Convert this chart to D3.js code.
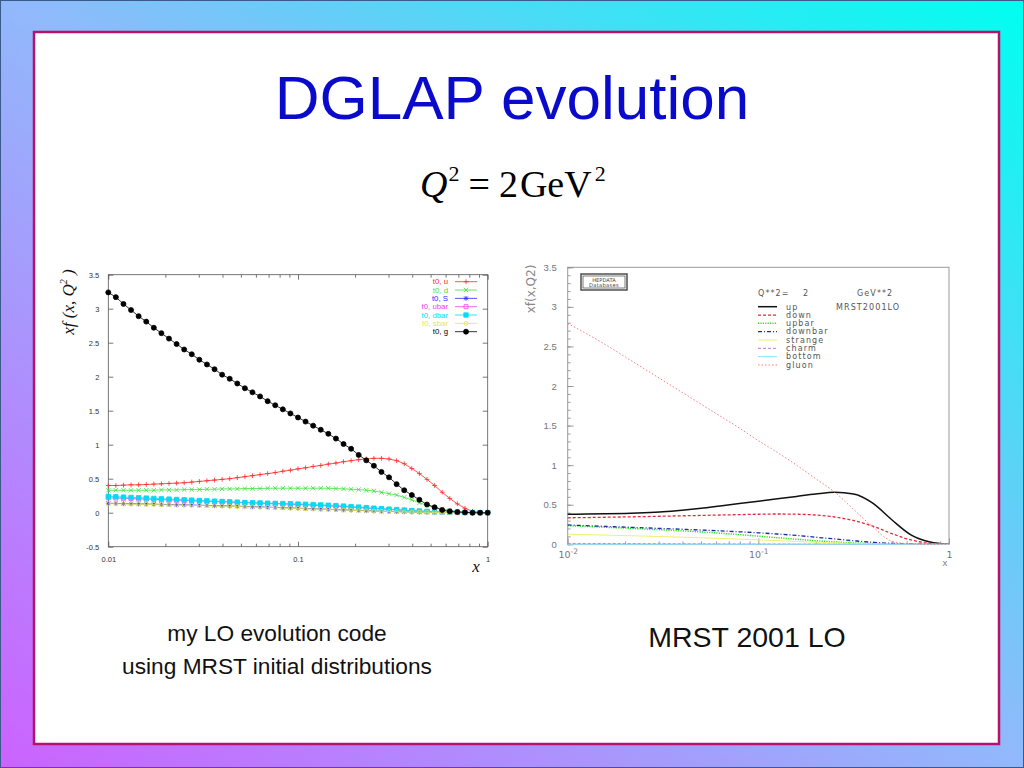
<!DOCTYPE html>
<html>
<head>
<meta charset="utf-8">
<script src="https://cdn.jsdelivr.net/npm/d3@7"></script>
<style>
  body { margin: 0; background: #fff; }
  svg { display: block; }
</style>
</head>
<body>
<div id="slide"></div>
<script>
// ---------- Left chart data (my LO evolution code, gnuplot style) ----------
var xGrid = [0.01, 0.01096, 0.01202, 0.01318, 0.01445, 0.01585, 0.01738, 0.01905, 0.02089, 0.02291,
  0.02512, 0.02754, 0.0302, 0.03311, 0.03631, 0.03981, 0.04365, 0.04786, 0.05248, 0.05754,
  0.0631, 0.06918, 0.07586, 0.08318, 0.0912, 0.1, 0.1096, 0.1202, 0.1318, 0.1445,
  0.1585, 0.1738, 0.1905, 0.2089, 0.2291, 0.2512, 0.2754, 0.302, 0.3311, 0.3631,
  0.3981, 0.4365, 0.4786, 0.5248, 0.5754, 0.631, 0.6918, 0.7586, 0.8318, 0.912, 1.0];

var uVals = [0.40, 0.40, 0.405, 0.41, 0.41, 0.415, 0.42, 0.425, 0.43, 0.435,
  0.44, 0.45, 0.46, 0.47, 0.48, 0.49, 0.50, 0.515, 0.53, 0.545,
  0.56, 0.575, 0.59, 0.61, 0.625, 0.645, 0.66, 0.68, 0.695, 0.715,
  0.73, 0.75, 0.765, 0.78, 0.79, 0.80, 0.80, 0.79, 0.765, 0.72,
  0.65, 0.575, 0.49, 0.40, 0.30, 0.21, 0.13, 0.065, 0.02, 0.003, 0.0];

var dVals = [0.33, 0.33, 0.33, 0.33, 0.33, 0.33, 0.33, 0.335, 0.335, 0.335,
  0.34, 0.34, 0.34, 0.345, 0.345, 0.35, 0.35, 0.35, 0.355, 0.355,
  0.355, 0.36, 0.36, 0.36, 0.36, 0.36, 0.36, 0.36, 0.36, 0.36,
  0.355, 0.35, 0.345, 0.34, 0.33, 0.32, 0.30, 0.28, 0.26, 0.225,
  0.19, 0.145, 0.11, 0.08, 0.055, 0.035, 0.02, 0.01, 0.005, 0.0, 0.0];

var sVals = [0.138, 0.136, 0.134, 0.132, 0.13, 0.127, 0.125, 0.122, 0.12, 0.117,
  0.115, 0.112, 0.11, 0.107, 0.104, 0.101, 0.098, 0.095, 0.092, 0.088,
  0.085, 0.081, 0.078, 0.074, 0.07, 0.066, 0.062, 0.058, 0.054, 0.05,
  0.046, 0.042, 0.038, 0.034, 0.03, 0.026, 0.022, 0.019, 0.016, 0.013,
  0.01, 0.008, 0.006, 0.004, 0.003, 0.002, 0.001, 0.0, 0.0, 0.0, 0.0];

var ubarVals = [0.22, 0.216, 0.212, 0.208, 0.204, 0.2, 0.196, 0.192, 0.188, 0.184,
  0.18, 0.176, 0.172, 0.168, 0.164, 0.16, 0.156, 0.152, 0.148, 0.144,
  0.14, 0.136, 0.132, 0.128, 0.124, 0.12, 0.115, 0.11, 0.105, 0.1,
  0.094, 0.088, 0.082, 0.075, 0.068, 0.061, 0.054, 0.047, 0.04, 0.034,
  0.028, 0.022, 0.017, 0.013, 0.009, 0.006, 0.003, 0.002, 0.001, 0.0, 0.0];

var dbarVals = [0.24, 0.235, 0.23, 0.225, 0.22, 0.215, 0.21, 0.205, 0.20, 0.195,
  0.19, 0.185, 0.18, 0.175, 0.17, 0.165, 0.16, 0.155, 0.15, 0.147,
  0.143, 0.14, 0.137, 0.134, 0.131, 0.128, 0.124, 0.12, 0.115, 0.11,
  0.105, 0.098, 0.09, 0.083, 0.075, 0.067, 0.06, 0.053, 0.046, 0.039,
  0.032, 0.026, 0.02, 0.015, 0.011, 0.007, 0.004, 0.002, 0.001, 0.0, 0.0];

var sbarVals = [0.132, 0.13, 0.128, 0.126, 0.124, 0.122, 0.12, 0.117, 0.115, 0.112,
  0.11, 0.107, 0.105, 0.102, 0.099, 0.096, 0.093, 0.09, 0.087, 0.084,
  0.08, 0.077, 0.074, 0.07, 0.066, 0.062, 0.058, 0.054, 0.05, 0.047,
  0.043, 0.039, 0.035, 0.031, 0.027, 0.023, 0.02, 0.017, 0.014, 0.011,
  0.009, 0.007, 0.005, 0.003, 0.002, 0.001, 0.0, 0.0, 0.0, 0.0, 0.0];

var gVals = [3.24, 3.17, 3.07, 2.98, 2.89, 2.81, 2.72, 2.64, 2.56, 2.48,
  2.40, 2.33, 2.25, 2.18, 2.11, 2.03, 1.97, 1.90, 1.83, 1.77,
  1.71, 1.64, 1.58, 1.52, 1.46, 1.40, 1.34, 1.28, 1.22, 1.16,
  1.09, 1.01, 0.94, 0.85, 0.77, 0.69, 0.60, 0.52, 0.42, 0.33,
  0.26, 0.19, 0.12, 0.08, 0.04, 0.02, 0.01, 0.005, 0.0, 0.0, 0.0];

var leftNames = ["t0, u", "t0, d", "t0, S", "t0, ubar", "t0, dbar", "t0, sbar", "t0, g"];
var leftValues = [uVals, dVals, sVals, ubarVals, dbarVals, sbarVals, gVals];
var leftYTicks = [-0.5, 0, 0.5, 1, 1.5, 2, 2.5, 3, 3.5];
var leftXTicks = [0.01, 0.1, 1];
var logMinorTicks = [0.02, 0.03, 0.04, 0.05, 0.06, 0.07, 0.08, 0.09,
  0.2, 0.3, 0.4, 0.5, 0.6, 0.7, 0.8, 0.9];

// ---------- Right chart data (MRST2001LO from HEPDATA) ----------
var xMrst = [0.01, 0.01259, 0.01585, 0.01995, 0.02512, 0.03162, 0.03981, 0.05012, 0.0631, 0.07943,
  0.1, 0.1259, 0.1585, 0.1995, 0.2512, 0.3162, 0.3981, 0.5012, 0.631, 0.7943, 1.0];

var upVals = [0.38, 0.382, 0.385, 0.39, 0.398, 0.41, 0.43, 0.455, 0.485, 0.515,
  0.545, 0.575, 0.605, 0.635, 0.657, 0.635, 0.52, 0.31, 0.12, 0.03, 0.0];
var downVals = [0.335, 0.338, 0.342, 0.346, 0.35, 0.355, 0.36, 0.365, 0.37, 0.375,
  0.38, 0.383, 0.38, 0.37, 0.345, 0.30, 0.23, 0.135, 0.055, 0.012, 0.0];
var upbarVals = [0.235, 0.225, 0.215, 0.205, 0.194, 0.182, 0.17, 0.156, 0.14, 0.122,
  0.103, 0.083, 0.064, 0.046, 0.03, 0.018, 0.009, 0.004, 0.001, 0.0, 0.0];
var downbarVals = [0.245, 0.235, 0.226, 0.217, 0.208, 0.199, 0.19, 0.18, 0.17, 0.158,
  0.145, 0.13, 0.112, 0.09, 0.068, 0.045, 0.025, 0.012, 0.004, 0.001, 0.0];
var strangeVals = [0.128, 0.122, 0.116, 0.11, 0.104, 0.097, 0.09, 0.082, 0.074, 0.065,
  0.056, 0.046, 0.036, 0.027, 0.018, 0.011, 0.006, 0.003, 0.001, 0.0, 0.0];
var charmVals = [0.012, 0.011, 0.01, 0.009, 0.008, 0.007, 0.006, 0.005, 0.004, 0.003,
  0.002, 0.002, 0.001, 0.001, 0.0, 0.0, 0.0, 0.0, 0.0, 0.0, 0.0];
var bottomVals = [0, 0, 0, 0, 0, 0, 0, 0, 0, 0, 0, 0, 0, 0, 0, 0, 0, 0, 0, 0, 0];
var gluonVals = [2.79, 2.66, 2.52, 2.37, 2.22, 2.07, 1.92, 1.77, 1.62, 1.47,
  1.31, 1.16, 1.0, 0.83, 0.66, 0.44, 0.22, 0.04, 0.005, 0.0, 0.0];

var rightNames = ["up", "down", "upbar", "downbar", "strange", "charm", "bottom", "gluon"];
var rightValues = [upVals, downVals, upbarVals, downbarVals, strangeVals, charmVals, bottomVals, gluonVals];
var rightYTicks = [0, 0.5, 1, 1.5, 2, 2.5, 3, 3.5];
var rightXTicks = [0.01, 0.1, 1];
var rightXLabels = [["10", "-2"], ["10", "-1"], ["1", ""]];

// ---------- Styles ----------
var leftColors = ["#ff2a2a", "#3ee03e", "#2a2aff", "#f040f0", "#00dcf5", "#e6e64a", "#000000"];
var leftMarkers = ["plus", "cross", "star", "box", "fbox", "circle", "fcircle"];
var rightColors = ["#111111", "#e8283a", "#30e030", "#1c2aa8", "#f0f070", "#d070d0", "#90e0ff", "#ff7a7a"];
var rightDash = ["", "3,2", "1.2,1.2", "4,2,1,2", "", "3,2", "", "1.5,2"];
var rightWidth = [1.5, 1.3, 1.5, 1.3, 1, 1, 1, 1];

var svg = d3.select("#slide").append("svg")
  .attr("width", 1024)
  .attr("height", 768);

// Background gradient and white panel
var defs = svg.append("defs");
var grad = defs.append("linearGradient")
  .attr("id", "bg")
  .attr("x1", "100%").attr("y1", "0%")
  .attr("x2", "0%").attr("y2", "100%");
grad.append("stop").attr("offset", "0%").attr("stop-color", "#00fff0");
grad.append("stop").attr("offset", "50%").attr("stop-color", "#92b8fb");
grad.append("stop").attr("offset", "100%").attr("stop-color", "#cc62ff");

svg.append("rect").attr("width", 1024).attr("height", 768).attr("fill", "url(#bg)");
svg.append("rect")
  .attr("x", 0.5).attr("y", 0.5).attr("width", 1023).attr("height", 767)
  .attr("fill", "none").attr("stroke", "#3a5a8a").attr("stroke-width", 1);
svg.append("rect")
  .attr("x", 34).attr("y", 32).attr("width", 965).attr("height", 712)
  .attr("fill", "#ffffff").attr("stroke", "#b8106e").attr("stroke-width", 2.5);

// Title and formula
svg.append("text")
  .attr("x", 512).attr("y", 119)
  .attr("text-anchor", "middle")
  .attr("font-family", "Liberation Sans, Arial, sans-serif")
  .attr("font-size", 62)
  .attr("fill", "#0a0acc")
  .text("DGLAP evolution");

var formula = svg.append("text")
  .attr("x", 420).attr("y", 197)
  .attr("font-family", "Liberation Serif, Times New Roman, serif")
  .attr("font-size", 38)
  .attr("fill", "#000");
formula.append("tspan").attr("font-style", "italic").text("Q");
formula.append("tspan").attr("font-size", 22).attr("dy", -16).attr("dx", 1).text("2");
formula.append("tspan").attr("dy", 16).attr("dx", 9).text("=");
formula.append("tspan").attr("dx", 9).text("2");
formula.append("tspan").attr("dx", 2).text("GeV");
formula.append("tspan").attr("font-size", 22).attr("dy", -16).attr("dx", 3).text("2");

// ---------- Step 1: left chart scales ----------
var xL = d3.scaleLog().domain([0.01, 1]).range([108.3, 487.7]);
var yL = d3.scaleLinear().domain([-0.5, 3.5]).range([546.7, 274.7]);

var left = svg.append("g").attr("class", "left-chart");

left.append("rect")
  .attr("x", xL(0.01)).attr("y", yL(3.5))
  .attr("width", xL(1) - xL(0.01)).attr("height", yL(-0.5) - yL(3.5))
  .attr("fill", "none").attr("stroke", "#555").attr("stroke-width", 0.8);

// Step 2: gnuplot style ticks on all four sides
function styleAxis(g, fontSize, color) {
  g.select(".domain").remove();
  g.selectAll("line").attr("stroke", "#555").attr("stroke-width", 0.8);
  g.selectAll("text")
    .attr("font-family", "Liberation Sans, Arial, sans-serif")
    .attr("font-size", fontSize)
    .attr("fill", color);
}

left.append("g")
  .attr("transform", "translate(" + xL(0.01) + ",0)")
  .call(d3.axisLeft(yL).tickValues(leftYTicks).tickSize(-5).tickPadding(9).tickFormat(function(d) { return String(d); }))
  .call(styleAxis, 7.5, "#333");
left.append("g")
  .attr("transform", "translate(" + xL(1) + ",0)")
  .call(d3.axisRight(yL).tickValues(leftYTicks).tickSize(-5).tickFormat(""))
  .call(styleAxis, 7.5, "#333");
left.append("g")
  .attr("transform", "translate(0," + yL(-0.5) + ")")
  .call(d3.axisBottom(xL).tickValues(leftXTicks).tickSize(-5).tickPadding(10).tickFormat(function(d) { return String(d); }))
  .call(styleAxis, 7.5, "#333");
left.append("g")
  .attr("transform", "translate(0," + yL(-0.5) + ")")
  .call(d3.axisBottom(xL).tickValues(logMinorTicks).tickSize(-3).tickFormat(""))
  .call(styleAxis, 7.5, "#333");
left.append("g")
  .attr("transform", "translate(0," + yL(3.5) + ")")
  .call(d3.axisTop(xL).tickValues(leftXTicks).tickSize(-5).tickFormat(""))
  .call(styleAxis, 7.5, "#333");
left.append("g")
  .attr("transform", "translate(0," + yL(3.5) + ")")
  .call(d3.axisTop(xL).tickValues(logMinorTicks).tickSize(-3).tickFormat(""))
  .call(styleAxis, 7.5, "#333");

// Axis labels
var yLab = left.append("text")
  .attr("transform", "translate(74,302) rotate(-90)")
  .attr("text-anchor", "middle")
  .attr("font-family", "Liberation Serif, Times New Roman, serif")
  .attr("font-style", "italic")
  .attr("font-size", 17)
  .attr("fill", "#111");
yLab.append("tspan").text("xf (x, Q");
yLab.append("tspan").attr("font-size", 10).attr("dy", -7).text("2");
yLab.append("tspan").attr("dy", 7).text(" )");

left.append("text")
  .attr("x", 476).attr("y", 572)
  .attr("text-anchor", "middle")
  .attr("font-family", "Liberation Serif, Times New Roman, serif")
  .attr("font-style", "italic")
  .attr("font-size", 17)
  .attr("fill", "#111")
  .text("x");

// Step 3: markers
function markerPath(type, s) {
  if (type === "plus") return "M" + (-s) + ",0H" + s + "M0," + (-s) + "V" + s;
  if (type === "cross") return "M" + (-s) + "," + (-s) + "L" + s + "," + s + "M" + (-s) + "," + s + "L" + s + "," + (-s);
  if (type === "star") return markerPath("plus", s) + markerPath("cross", s * 0.8);
  if (type === "box" || type === "fbox") return "M" + (-s) + "," + (-s) + "H" + s + "V" + s + "H" + (-s) + "Z";
  var r = s;
  return "M" + (-r) + ",0A" + r + "," + r + " 0 1,0 " + r + ",0A" + r + "," + r + " 0 1,0 " + (-r) + ",0Z";
}
var markerSize = { plus: 2.4, cross: 2.2, star: 2.4, box: 2.0, fbox: 2.2, circle: 2.0, fcircle: 2.5 };

var lineL = d3.line()
  .x(function(d) { return xL(d[0]); })
  .y(function(d) { return yL(d[1]); });

leftValues.forEach(function(vals, i) {
  var pts = xGrid.map(function(x, j) { return [x, vals[j]]; });
  var type = leftMarkers[i];
  var filled = type === "fbox" || type === "fcircle";
  left.append("path")
    .datum(pts)
    .attr("d", lineL)
    .attr("fill", "none")
    .attr("stroke", leftColors[i])
    .attr("stroke-width", 0.8);
  left.append("g").selectAll("path")
    .data(pts)
    .enter()
    .append("path")
    .attr("transform", function(d) { return "translate(" + xL(d[0]) + "," + yL(d[1]) + ")"; })
    .attr("d", markerPath(type, markerSize[type]))
    .attr("fill", filled ? leftColors[i] : "none")
    .attr("stroke", leftColors[i])
    .attr("stroke-width", 0.8);
});

// Step 4: left legend
var legL = left.append("g").attr("class", "legend");
leftNames.forEach(function(name, i) {
  var yy = 281.7 + i * 8.33;
  var type = leftMarkers[i];
  var filled = type === "fbox" || type === "fcircle";
  legL.append("text")
    .attr("x", 448).attr("y", yy + 2.7)
    .attr("text-anchor", "end")
    .attr("font-family", "Liberation Sans, Arial, sans-serif")
    .attr("font-size", 7.8)
    .attr("fill", leftColors[i])
    .text(name);
  legL.append("line")
    .attr("x1", 455).attr("x2", 477).attr("y1", yy).attr("y2", yy)
    .attr("stroke", leftColors[i]).attr("stroke-width", 0.8);
  legL.append("path")
    .attr("transform", "translate(466," + yy + ")")
    .attr("d", markerPath(type, markerSize[type]))
    .attr("fill", filled ? leftColors[i] : "none")
    .attr("stroke", leftColors[i])
    .attr("stroke-width", 0.8);
});

// ---------- Step 5: right chart scales ----------
var xR = d3.scaleLog().domain([0.01, 1]).range([567.7, 949]);
var yR = d3.scaleLinear().domain([0, 3.5]).range([544.3, 267.3]);

var right = svg.append("g").attr("class", "right-chart");

right.append("rect")
  .attr("x", xR(0.01)).attr("y", yR(3.5))
  .attr("width", xR(1) - xR(0.01)).attr("height", yR(0) - yR(3.5))
  .attr("fill", "none").attr("stroke", "#9a9a9a").attr("stroke-width", 1);

right.append("g")
  .attr("transform", "translate(" + xR(0.01) + ",0)")
  .call(d3.axisLeft(yR).tickValues(rightYTicks).tickSize(-6).tickPadding(11).tickFormat(function(d) { return String(d); }))
  .call(styleAxis, 9.5, "#777");
right.append("g")
  .attr("transform", "translate(" + xR(0.01) + ",0)")
  .call(d3.axisLeft(yR).tickValues(yR.ticks(35)).tickSize(-3).tickFormat(""))
  .call(styleAxis, 9.5, "#777");
right.append("g")
  .attr("transform", "translate(0," + yR(0) + ")")
  .call(d3.axisBottom(xR).tickValues(logMinorTicks).tickSize(-3).tickFormat(""))
  .call(styleAxis, 9.5, "#777");
var xAxR = right.append("g")
  .attr("transform", "translate(0," + yR(0) + ")")
  .call(d3.axisBottom(xR).tickValues(rightXTicks).tickSize(-6).tickPadding(7).tickFormat(""))
  .call(styleAxis, 9.5, "#777");
right.selectAll("g.tick line").attr("stroke", "#888");

xAxR.selectAll("g.tick").each(function(d, i) {
  var t = d3.select(this).append("text")
    .attr("y", 14)
    .attr("text-anchor", "middle")
    .attr("font-family", "DejaVu Sans, sans-serif")
    .attr("font-size", 9.5)
    .attr("fill", "#777")
    .text(rightXLabels[i][0]);
  if (rightXLabels[i][1]) {
    t.append("tspan").attr("dy", -4).attr("font-size", 7.5).text(rightXLabels[i][1]);
  }
});

right.append("text")
  .attr("x", 945).attr("y", 566)
  .attr("text-anchor", "middle")
  .attr("font-family", "DejaVu Sans, sans-serif")
  .attr("font-size", 9)
  .attr("fill", "#888")
  .text("x");

right.append("text")
  .attr("transform", "translate(535,289) rotate(-90)")
  .attr("text-anchor", "middle")
  .attr("font-family", "DejaVu Sans, sans-serif")
  .attr("font-size", 12)
  .attr("fill", "#888")
  .text("xf(x,Q2)");

// HEPDATA stamp
right.append("rect").attr("x", 581).attr("y", 274).attr("width", 46).attr("height", 16)
  .attr("fill", "#fff").attr("stroke", "#444").attr("stroke-width", 1.4);
right.append("rect").attr("x", 583).attr("y", 276).attr("width", 42).attr("height", 12)
  .attr("fill", "none").attr("stroke", "#444").attr("stroke-width", 0.7);
right.append("text").attr("x", 604).attr("y", 281.5).attr("text-anchor", "middle")
  .attr("font-family", "DejaVu Sans, sans-serif").attr("font-size", 5.2).attr("fill", "#444")
  .text("HEPDATA");
right.append("text").attr("x", 604).attr("y", 287).attr("text-anchor", "middle")
  .attr("font-family", "DejaVu Sans, sans-serif").attr("font-size", 5.2).attr("fill", "#444")
  .attr("letter-spacing", 0.3)
  .text("Databases");

// Step 6: right chart curves
var lineR = d3.line()
  .x(function(d) { return xR(d[0]); })
  .y(function(d) { return yR(d[1]); })
  .curve(d3.curveMonotoneX);

rightValues.forEach(function(vals, i) {
  var pts = xMrst.map(function(x, j) { return [x, vals[j]]; });
  right.append("path")
    .datum(pts)
    .attr("d", lineR)
    .attr("fill", "none")
    .attr("stroke", rightColors[i])
    .attr("stroke-width", rightWidth[i])
    .attr("stroke-dasharray", rightDash[i] || null);
});

// Step 7: right legend
var legR = right.append("g").attr("class", "legend");
var legFont = "DejaVu Sans, sans-serif";
legR.append("text").attr("x", 758).attr("y", 295.5).attr("font-family", legFont)
  .attr("font-size", 8).attr("letter-spacing", 1.1).attr("fill", "#555").text("Q**2=");
legR.append("text").attr("x", 803).attr("y", 295.5).attr("font-family", legFont)
  .attr("font-size", 8).attr("fill", "#555").text("2");
legR.append("text").attr("x", 857).attr("y", 295.5).attr("font-family", legFont)
  .attr("font-size", 8).attr("letter-spacing", 1.1).attr("fill", "#555").text("GeV**2");
legR.append("text").attr("x", 836).attr("y", 309.5).attr("font-family", legFont)
  .attr("font-size", 8).attr("letter-spacing", 1.1).attr("fill", "#555").text("MRST2001LO");

rightNames.forEach(function(name, i) {
  var yy = 306.7 + i * 8.33;
  legR.append("line")
    .attr("x1", 758).attr("x2", 777).attr("y1", yy).attr("y2", yy)
    .attr("stroke", rightColors[i])
    .attr("stroke-width", rightWidth[i])
    .attr("stroke-dasharray", rightDash[i] || null);
  legR.append("text")
    .attr("x", 786).attr("y", yy + 2.8)
    .attr("font-family", legFont)
    .attr("font-size", 8)
    .attr("letter-spacing", 1.1)
    .attr("fill", "#555")
    .text(name);
});

// ---------- Captions ----------
var capFont = "Liberation Sans, Arial, sans-serif";
svg.append("text").attr("x", 277).attr("y", 641).attr("text-anchor", "middle")
  .attr("font-family", capFont).attr("font-size", 22.7).attr("fill", "#111")
  .text("my LO evolution code");
svg.append("text").attr("x", 277).attr("y", 674).attr("text-anchor", "middle")
  .attr("font-family", capFont).attr("font-size", 22.7).attr("fill", "#111")
  .text("using MRST initial distributions");
svg.append("text").attr("x", 747).attr("y", 647).attr("text-anchor", "middle")
  .attr("font-family", capFont).attr("font-size", 28.5).attr("fill", "#111")
  .text("MRST 2001 LO");
</script>
</body>
</html>
